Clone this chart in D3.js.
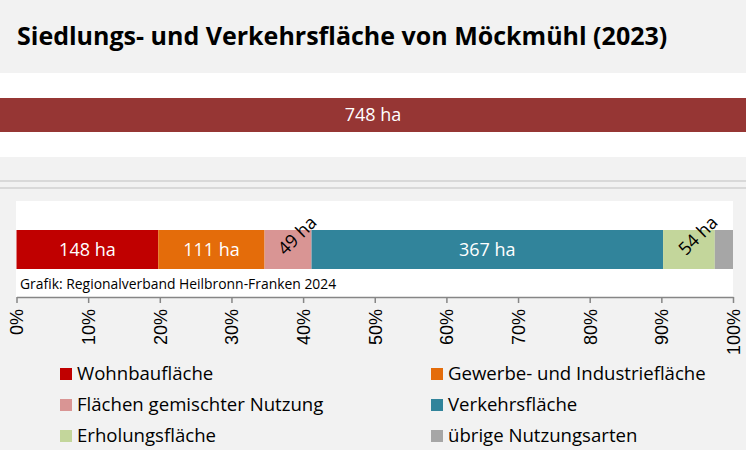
<!DOCTYPE html>
<html>
<head>
<meta charset="utf-8">
<script src="https://cdn.jsdelivr.net/npm/d3@7"></script>
<style>
  html, body { margin: 0; padding: 0; background: #f2f2f2; }
  svg { display: block; }
  .cal { font-family: "Open Sans", sans-serif; }
</style>
</head>
<body>
<svg id="chart" width="746" height="450"></svg>
<script>
// Siedlungs- und Verkehrsfläche, Möckmühl 2023 (Hektar)
const titleText = "Siedlungs- und Verkehrsfläche von Möckmühl (2023)";
const totalLabel = "ha";
const totalArea = [748];
const categories = [
  "Wohnbaufläche",
  "Gewerbe- und Industriefläche",
  "Flächen gemischter Nutzung",
  "Verkehrsfläche",
  "Erholungsfläche",
  "übrige Nutzungsarten"
];
const areaHa = [148, 111, 49, 367, 54, 19];
const colors = ["#c00000", "#e46c0a", "#d99594", "#31849b", "#c3d69b", "#a6a6a6"];
const tickValues = [0, 0.1, 0.2, 0.3, 0.4, 0.5, 0.6, 0.7, 0.8, 0.9, 1.0];
const sourceText = "Grafik: Regionalverband Heilbronn-Franken 2024";

const W = 746, H = 450;
const svg = d3.select("#chart");

svg.append("rect").attr("width", W).attr("height", H).attr("fill", "#f2f2f2");

// Title
svg.append("text")
  .attr("class", "cal")
  .attr("x", 17).attr("y", 45)
  .attr("font-size", 25).attr("font-weight", "bold")
  .attr("fill", "#000")
  .text(titleText);

// Total bar
const xTotal = d3.scaleLinear().domain([0, totalArea[0]]).range([0, W]);
svg.append("rect").attr("x", 0).attr("y", 73).attr("width", W).attr("height", 84).attr("fill", "#fff");
svg.selectAll("rect.total").data(totalArea).join("rect")
  .attr("class", "total")
  .attr("x", xTotal(0)).attr("y", 98)
  .attr("width", d => xTotal(d) - xTotal(0)).attr("height", 34)
  .attr("fill", "#963634");
svg.selectAll("text.totalLbl").data(totalArea).join("text")
  .attr("class", "cal totalLbl")
  .attr("x", d => xTotal(d / 2)).attr("y", 115)
  .attr("dy", "0.35em")
  .attr("text-anchor", "middle")
  .attr("font-size", 18).attr("fill", "#fff")
  .text(d => `${d} ${totalLabel}`);

// Separator lines
[181, 188].forEach(y => {
  svg.append("line").attr("x1", 0).attr("x2", W).attr("y1", y).attr("y2", y)
    .attr("stroke", "#d9d9d9").attr("stroke-width", 2);
});

// Stacked composition bar
const total = d3.sum(areaHa);
const x = d3.scaleLinear().domain([0, 1]).range([16.5, 733]);
svg.append("rect").attr("x", 16).attr("y", 201).attr("width", 717).attr("height", 96).attr("fill", "#fff");

let cum = 0;
const segs = areaHa.map((v, i) => {
  const s = { name: categories[i], value: v, start: cum / total, end: (cum + v) / total, color: colors[i] };
  cum += v;
  return s;
});

const barY = 230, barH = 39;
svg.selectAll("rect.seg").data(segs).join("rect")
  .attr("class", "seg")
  .attr("x", d => x(d.start)).attr("y", barY)
  .attr("width", d => x(d.end) - x(d.start)).attr("height", barH)
  .attr("fill", d => d.color);

// Value labels: wide segments inside, narrow segments rotated above
const labelled = segs.filter(d => d.value >= 30);
svg.selectAll("text.val").data(labelled).join("text")
  .attr("class", "cal val")
  .attr("font-size", 18)
  .attr("text-anchor", "middle")
  .attr("dy", "0.35em")
  .attr("fill", d => d.value >= 60 ? "#fff" : "#000")
  .attr("transform", d => {
    const cx = (x(d.start) + x(d.end)) / 2;
    const cy = barY + barH / 2;
    return d.value >= 60 ? `translate(${cx},${cy})` : `translate(${cx + 9},${cy - 14}) rotate(-45)`;
  })
  .text(d => `${d.value} ha`);

svg.append("text")
  .attr("class", "cal")
  .attr("x", 20).attr("y", 289)
  .attr("font-size", 13.9).attr("fill", "#000")
  .text(sourceText);

// Percentage axis
const axis = d3.axisBottom(x).tickValues(tickValues).tickSize(6).tickSizeOuter(0)
  .tickFormat(d3.format(".0%"));
const gAxis = svg.append("g").attr("transform", "translate(0,297)").call(axis);
gAxis.select(".domain").attr("stroke", "#868686").attr("stroke-width", 1.5);
gAxis.selectAll(".tick line").attr("stroke", "#868686").attr("stroke-width", 1.5);
gAxis.selectAll(".tick text")
  .attr("font-family", "'Liberation Sans', Arial, sans-serif")
  .attr("font-size", 18).attr("fill", "#000")
  .attr("text-anchor", "end")
  .attr("transform", "rotate(-90)")
  .attr("x", -12).attr("y", 0).attr("dy", "0.35em");

// Legend
const legend = svg.append("g");
const legItems = legend.selectAll("g").data(categories).join("g")
  .attr("transform", (d, i) => `translate(${i % 2 === 0 ? 60 : 431},${368 + Math.floor(i / 2) * 31})`);
legItems.append("rect").attr("width", 12).attr("height", 12).attr("fill", (d, i) => colors[i]);
legItems.append("text")
  .attr("class", "cal")
  .attr("x", 17).attr("y", 12)
  .attr("font-size", 18.6).attr("fill", "#000")
  .text(d => d);
</script>
</body>
</html>
